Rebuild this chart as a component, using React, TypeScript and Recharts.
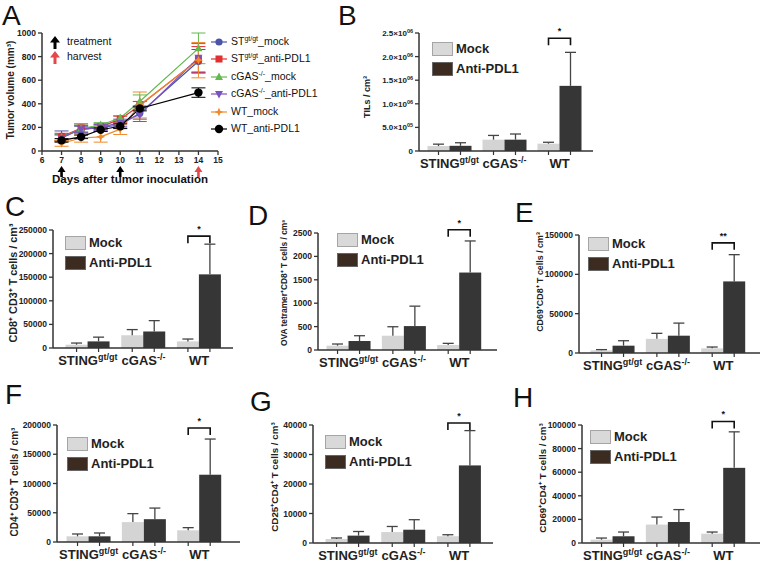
import React from "react";
import {
  LineChart,
  Line,
  XAxis,
  YAxis,
  ErrorBar,
  ReferenceDot,
  BarChart,
  Bar,
  Label,
} from "recharts";

const FONT = '"Liberation Sans", Arial, Helvetica, sans-serif';
const AXIS = "#333";
const MOCK = "#d4d4d4";
const ANTI = "#363636";
const ERR = "#444";

// ---------- panel A: tumor growth ----------
const days = [7, 8, 9, 10, 11, 14];
const dayTicks = [6, 7, 8, 9, 10, 11, 12, 13, 14, 15];
const volumeTicks = [0, 200, 400, 600, 800, 1000];
const stMock = [125, 180, 200, 220, 320, 760];
const stMockErr = [45, 30, 20, 25, 50, 100];
const stAnti = [120, 195, 205, 270, 385, 775];
const stAntiErr = [30, 35, 25, 25, 35, 110];
const cgasMock = [115, 190, 220, 280, 420, 870];
const cgasMockErr = [25, 30, 20, 20, 55, 130];
const cgasAnti = [110, 185, 200, 240, 310, 790];
const cgasAntiErr = [25, 30, 25, 30, 60, 120];
const wtMock = [65, 110, 120, 185, 390, 770];
const wtMockErr = [25, 35, 45, 45, 110, 150];
const wtAnti = [90, 120, 180, 210, 360, 495];
const wtAntiErr = [15, 15, 15, 20, 20, 40];
const treatmentDays = [7, 10];
const harvestDays = [14];

const growthRows = days.map((d, i) => ({
  day: d,
  stMock: stMock[i],
  stMockErr: stMockErr[i],
  stAnti: stAnti[i],
  stAntiErr: stAntiErr[i],
  cgasMock: cgasMock[i],
  cgasMockErr: cgasMockErr[i],
  cgasAnti: cgasAnti[i],
  cgasAntiErr: cgasAntiErr[i],
  wtMock: wtMock[i],
  wtMockErr: wtMockErr[i],
  wtAnti: wtAnti[i],
  wtAntiErr: wtAntiErr[i],
}));

const series = [
  { key: "stMock", color: "#4a55a8", shape: "circle", name: ["ST", "gt/gt", "_mock"] },
  { key: "stAnti", color: "#e0302f", shape: "square", name: ["ST", "gt/gt", "_anti-PDL1"] },
  { key: "cgasMock", color: "#63b84f", shape: "tri", name: ["cGAS", "-/-", "_mock"] },
  { key: "cgasAnti", color: "#7b52c0", shape: "itri", name: ["cGAS", "-/-", "_anti-PDL1"] },
  { key: "wtMock", color: "#f08a2c", shape: "star", name: ["WT", "", "_mock"] },
  { key: "wtAnti", color: "#000000", shape: "bigcircle", name: ["WT", "", "_anti-PDL1"] },
];

// ---------- bar panels ----------
const categories = ["STING", "cGAS", "WT"];
const categorySup = ["gt/gt", "-/-", ""];

const tilsTicks = [0, 500000, 1000000, 1500000, 2000000, 2500000];
const tilsMock = [105000, 240000, 155000];
const tilsMockErr = [40000, 90000, 30000];
const tilsAnti = [110000, 240000, 1380000];
const tilsAntiErr = [65000, 120000, 710000];

const cd8Ticks = [0, 50000, 100000, 150000, 200000, 250000];
const cd8Mock = [7000, 27000, 14000];
const cd8MockErr = [3500, 12000, 5000];
const cd8Anti = [14000, 35000, 156000];
const cd8AntiErr = [9000, 23000, 64000];

const ovaTicks = [0, 500, 1000, 1500, 2000, 2500];
const ovaMock = [92, 305, 106];
const ovaMockErr = [36, 192, 36];
const ovaAnti = [192, 511, 1655];
const ovaAntiErr = [113, 426, 675];

const cd69cd8Ticks = [0, 50000, 100000, 150000];
const cd69cd8Mock = [3400, 18000, 5900];
const cd69cd8MockErr = [900, 7000, 1700];
const cd69cd8Anti = [9300, 22000, 91000];
const cd69cd8AntiErr = [6300, 16000, 34000];

const cd4Ticks = [0, 50000, 100000, 150000, 200000];
const cd4Mock = [9700, 34000, 20000];
const cd4MockErr = [4000, 14500, 4500];
const cd4Anti = [9700, 39000, 115000];
const cd4AntiErr = [5700, 19000, 61000];

const cd25Ticks = [0, 10000, 20000, 30000, 40000];
const cd25Mock = [1350, 3700, 2300];
const cd25MockErr = [350, 1900, 500];
const cd25Anti = [2500, 4500, 26300];
const cd25AntiErr = [1400, 3400, 11800];

const cd69cd4Ticks = [0, 20000, 40000, 60000, 80000, 100000];
const cd69cd4Mock = [2800, 15600, 7900];
const cd69cd4MockErr = [1400, 6400, 1400];
const cd69cd4Anti = [5700, 17800, 63700];
const cd69cd4AntiErr = [3600, 10500, 30500];

function Marker({ shape, cx, cy, color }: any) {
  if (cx == null || cy == null) return null;
  switch (shape) {
    case "square":
      return <rect x={cx - 3.5} y={cy - 3.5} width={7} height={7} fill={color} />;
    case "tri":
      return <polygon points={`${cx},${cy - 4.5} ${cx + 4},${cy + 3} ${cx - 4},${cy + 3}`} fill={color} />;
    case "itri":
      return <polygon points={`${cx},${cy + 4.5} ${cx + 4},${cy - 3} ${cx - 4},${cy - 3}`} fill={color} />;
    case "star":
      return (
        <polygon
          points={`${cx},${cy - 4.5} ${cx + 1.3},${cy - 1.3} ${cx + 4.5},${cy} ${cx + 1.3},${cy + 1.3} ${cx},${cy + 4.5} ${cx - 1.3},${cy + 1.3} ${cx - 4.5},${cy} ${cx - 1.3},${cy - 1.3}`}
          fill={color}
        />
      );
    case "bigcircle":
      return <circle cx={cx} cy={cy} r={4.2} fill={color} />;
    default:
      return <circle cx={cx} cy={cy} r={3.6} fill={color} />;
  }
}

const UpArrow = ({ cx, cy, color, offset = 15 }: any) => {
  const top = cy + offset;
  return (
    <polygon
      points={`${cx},${top} ${cx + 4},${top + 6} ${cx + 1.3},${top + 6} ${cx + 1.3},${top + 11} ${cx - 1.3},${top + 11} ${cx - 1.3},${top + 6} ${cx - 4},${top + 6}`}
      fill={color}
    />
  );
};

const ArrowIcon = ({ color }: any) => (
  <svg width={10} height={13} style={{ display: "block" }}>
    <polygon points="5,0 10,6.5 6.5,6.5 6.5,13 3.5,13 3.5,6.5 0,6.5" fill={color} />
  </svg>
);

const NumTick = ({ x, y, payload, fontSize = 8.5 }: any) => (
  <text x={x} y={y} dy={3} textAnchor="end" fontSize={fontSize} fontWeight={700} fill="#222" fontFamily={FONT}>
    {payload.value}
  </text>
);

const NumTickBottom = ({ x, y, payload }: any) => (
  <text x={x} y={y} dy={6} textAnchor="middle" fontSize={8.5} fontWeight={700} fill="#222" fontFamily={FONT}>
    {payload.value}
  </text>
);

const SciTick = ({ x, y, payload }: any) => {
  const v = payload.value;
  if (v === 0) return <NumTick x={x} y={y} payload={payload} fontSize={8} />;
  const exp = Math.floor(Math.log10(v));
  const m = (v / Math.pow(10, exp)).toFixed(1);
  return (
    <text x={x} y={y} dy={3} textAnchor="end" fontSize={8} fontWeight={700} fill="#222" fontFamily={FONT}>
      {m}×10
      <tspan fontSize={5.5} dy={-3}>{String(exp).padStart(2, "0")}</tspan>
    </text>
  );
};

const CatTick = ({ x, y, payload }: any) => {
  const sup = categorySup[categories.indexOf(payload.value)];
  return (
    <text x={x} y={y} dy={8.5} textAnchor="middle" fontSize={13} fontWeight={700} fill="#222" fontFamily={FONT}>
      {payload.value}
      {sup ? (
        <tspan fontSize={9} dy={-5}>
          {sup}
        </tspan>
      ) : null}
    </text>
  );
};

function BarWithError(props: any) {
  const { x, y, width, height, fill, payload, valKey, errKey } = props;
  const v = payload[valKey];
  const k = v > 0 ? height / v : 0;
  const mid = x + width / 2;
  const base = y + height;
  const top = y - payload[errKey] * k;
  let bracket = null;
  if (payload.sig && valKey === "anti") {
    const by = base - payload.sigLevel * k;
    const x1 = mid - width;
    const x2 = mid;
    bracket = (
      <g>
        <path d={`M${x1},${by + 7}V${by}H${x2}V${by + 7}`} stroke="#111" strokeWidth={1.6} fill="none" />
        <text x={(x1 + x2) / 2} y={by - 4} textAnchor="middle" fontSize={9} fontWeight={700} fill="#111" fontFamily={FONT}>
          {payload.sig}
        </text>
      </g>
    );
  }
  return (
    <g>
      <rect x={x} y={y} width={width} height={height} fill={fill} />
      <line x1={mid} x2={mid} y1={y} y2={top} stroke={ERR} strokeWidth={1.3} />
      <line x1={mid - 5.5} x2={mid + 5.5} y1={top} y2={top} stroke={ERR} strokeWidth={1.3} />
      <line x1={mid} x2={mid} y1={base} y2={base + 4} stroke={AXIS} strokeWidth={1.2} />
      {bracket}
    </g>
  );
}

const PanelLetter = ({ ch, x, capTop }: any) => (
  <div
    style={{
      position: "absolute",
      left: x,
      top: capTop,
      fontSize: 28,
      lineHeight: "20px",
      color: "#111",
      fontFamily: FONT,
    }}
  >
    {ch}
  </div>
);

const VLabel = ({ text, x, y, size }: any) => (
  <div
    style={{
      position: "absolute",
      left: x,
      top: y,
      transform: "translate(-50%, -50%) rotate(-90deg)",
      whiteSpace: "nowrap",
      fontSize: size,
      fontWeight: 700,
      color: "#222",
      fontFamily: FONT,
      lineHeight: 1,
    }}
  >
    {text}
  </div>
);

const BarLegend = ({ x, y }: any) => (
  <div style={{ position: "absolute", left: x, top: y, fontFamily: FONT, fontWeight: 700, fontSize: 13, color: "#222" }}>
    {[
      { label: "Mock", fill: "#d9d9d9", stroke: "#a5a5a5" },
      { label: "Anti-PDL1", fill: "#3b2b20", stroke: "#666" },
    ].map((it, i) => (
      <div key={it.label} style={{ position: "absolute", left: 0, top: i * 20, whiteSpace: "nowrap", height: 13 }}>
        <div
          style={{
            position: "absolute",
            left: 0,
            top: 0,
            width: 19,
            height: 12,
            background: it.fill,
            border: `1px solid ${it.stroke}`,
          }}
        />
        <span style={{ position: "absolute", left: 24, top: -1, lineHeight: "15px" }}>{it.label}</span>
      </div>
    ))}
  </div>
);

function BarPanel(p: any) {
  const { plot, pad, ticks, mock, mockErr, anti, antiErr, sig, sigLevel, sci } = p;
  const rows = categories.map((c, i) => ({
    cat: c,
    mock: mock[i],
    mockErr: mockErr[i],
    anti: anti[i],
    antiErr: antiErr[i],
    sig: i === 2 ? sig : null,
    sigLevel: i === 2 ? sigLevel : null,
  }));
  const yw = 50;
  const topM = 24;
  const left = plot.l - yw;
  const top = plot.t - topM;
  const right = Math.min(plot.r + 4, 762);
  const width = right - left;
  const axisH = Math.min(24, 562 - plot.b);
  const height = plot.b - top + axisH;
  return (
    <>
      <div style={{ position: "absolute", left, top }}>
        <BarChart
          width={width}
          height={height}
          data={rows}
          margin={{ top: topM, right: right - plot.r, bottom: 0, left: 0 }}
          barCategoryGap="10%"
          barGap={0}
        >
          <XAxis
            dataKey="cat"
            interval={0}
            height={axisH}
            padding={{ left: pad[0], right: pad[1] }}
            tick={<CatTick />}
            tickLine={false}
            axisLine={{ stroke: AXIS, strokeWidth: 1.5 }}
          />
          <YAxis
            width={yw}
            domain={[0, ticks[ticks.length - 1]]}
            ticks={ticks}
            interval={0}
            tick={sci ? <SciTick /> : <NumTick />}
            tickSize={4}
            tickLine={{ stroke: AXIS, strokeWidth: 1.3 }}
            axisLine={{ stroke: AXIS, strokeWidth: 1.5 }}
          />
          <Bar
            dataKey="mock"
            fill={MOCK}
            isAnimationActive={false}
            shape={(s: any) => <BarWithError {...s} valKey="mock" errKey="mockErr" />}
          />
          <Bar
            dataKey="anti"
            fill={ANTI}
            isAnimationActive={false}
            shape={(s: any) => <BarWithError {...s} valKey="anti" errKey="antiErr" />}
          />
        </BarChart>
      </div>
      <BarLegend x={p.legend[0]} y={p.legend[1]} />
      <VLabel text={p.yLabel} x={p.yLabelPos[0]} y={p.yLabelPos[1]} size={p.yLabelSize} />
      <PanelLetter ch={p.letter} x={p.letterPos[0]} capTop={p.letterPos[1]} />
    </>
  );
}

function GrowthPanel() {
  const left = 0;
  const top = 20;
  const width = 300;
  const plot = { l: 42, t: 33, b: 151, r: 218 };
  return (
    <>
      <div style={{ position: "absolute", left, top }}>
        <LineChart
          width={width}
          height={plot.b - top + 40}
          data={growthRows}
          margin={{ top: plot.t - top, right: width - plot.r, bottom: 4, left: 0 }}
        >
          <XAxis
            type="number"
            dataKey="day"
            domain={[6, 15]}
            ticks={dayTicks}
            interval={0}
            height={36}
            tick={<NumTickBottom />}
            tickSize={4}
            tickLine={{ stroke: AXIS, strokeWidth: 1.3 }}
            axisLine={{ stroke: AXIS, strokeWidth: 1.5 }}
          >
            <Label
              value="Days after tumor inoculation"
              position="insideBottom"
              offset={4}
              fontSize={11.5}
              fontWeight={700}
              fill="#111"
              fontFamily={FONT}
            />
          </XAxis>
          <YAxis
            width={plot.l - left}
            domain={[0, 1000]}
            ticks={volumeTicks}
            interval={0}
            tick={<NumTick />}
            tickSize={4}
            tickLine={{ stroke: AXIS, strokeWidth: 1.3 }}
            axisLine={{ stroke: AXIS, strokeWidth: 1.5 }}
          />
          {series.map((s) => (
            <Line
              key={s.key}
              type="linear"
              dataKey={s.key}
              stroke={s.color}
              strokeWidth={1.2}
              isAnimationActive={false}
              activeDot={false}
              dot={(d: any) => <Marker key={`${s.key}-${d.index}`} shape={s.shape} cx={d.cx} cy={d.cy} color={s.color} />}
            >
              <ErrorBar dataKey={`${s.key}Err`} width={7} stroke={s.color} strokeWidth={1} direction="y" />
            </Line>
          ))}
          {treatmentDays.map((d) => (
            <ReferenceDot key={`t${d}`} x={d} y={0} r={0} shape={(p: any) => <UpArrow cx={p.cx} cy={p.cy} color="#000" />} />
          ))}
          {harvestDays.map((d) => (
            <ReferenceDot key={`h${d}`} x={d} y={0} r={0} shape={(p: any) => <UpArrow cx={p.cx} cy={p.cy} color="#e5484a" />} />
          ))}
        </LineChart>
      </div>
      <VLabel text="Tumor volume (mm³)" x={11} y={90} size={10} />
      <div style={{ position: "absolute", left: 50, top: 36, fontFamily: FONT, fontSize: 10.5, color: "#111" }}>
        <div style={{ position: "absolute", left: 0, top: 0 }}>
          <ArrowIcon color="#000" />
        </div>
        <span style={{ position: "absolute", left: 17, top: -1, whiteSpace: "nowrap" }}>treatment</span>
        <div style={{ position: "absolute", left: 0, top: 15 }}>
          <ArrowIcon color="#e5484a" />
        </div>
        <span style={{ position: "absolute", left: 17, top: 14, whiteSpace: "nowrap" }}>harvest</span>
      </div>
      <div style={{ position: "absolute", left: 210, top: 36, fontFamily: FONT, fontSize: 10.5, color: "#111" }}>
        {series.map((s, i) => (
          <div key={s.key} style={{ position: "absolute", left: 0, top: i * 17.4, whiteSpace: "nowrap", height: 12 }}>
            <svg width={18} height={12} style={{ position: "absolute", left: 0, top: 0 }}>
              <line x1={1} x2={17} y1={6} y2={6} stroke={s.color} strokeWidth={1.2} />
              <Marker shape={s.shape} cx={9} cy={6} color={s.color} />
            </svg>
            <span style={{ position: "absolute", left: 21, top: -1, lineHeight: "13px" }}>
              {s.name[0]}
              {s.name[1] ? <sup style={{ fontSize: 7, lineHeight: 0 }}>{s.name[1]}</sup> : null}
              {s.name[2]}
            </span>
          </div>
        ))}
      </div>
      <PanelLetter ch="A" x={2} capTop={6} />
    </>
  );
}

export default function App() {
  return (
    <div
      style={{
        position: "absolute",
        left: 0,
        top: 0,
        width: 762,
        height: 563,
        overflow: "hidden",
        background: "#fff",
        fontFamily: FONT,
      }}
    >
      <GrowthPanel />
      <BarPanel
        letter="B"
        letterPos={[338, 6]}
        plot={{ l: 419, t: 33, b: 151, r: 593 }}
        pad={[3, 6]}
        ticks={tilsTicks}
        sci
        mock={tilsMock}
        mockErr={tilsMockErr}
        anti={tilsAnti}
        antiErr={tilsAntiErr}
        sig="*"
        sigLevel={2390000}
        yLabel="TILs / cm³"
        yLabelPos={[367, 97]}
        yLabelSize={9}
        legend={[432, 42]}
      />
      <BarPanel
        letter="C"
        letterPos={[5, 197]}
        plot={{ l: 53, t: 230, b: 348, r: 233 }}
        pad={[7, 6]}
        ticks={cd8Ticks}
        mock={cd8Mock}
        mockErr={cd8MockErr}
        anti={cd8Anti}
        antiErr={cd8AntiErr}
        sig="*"
        sigLevel={237000}
        yLabel="CD8⁺ CD3⁺ T cells / cm³"
        yLabelPos={[13, 283]}
        yLabelSize={10.8}
        legend={[65, 236]}
      />
      <BarPanel
        letter="D"
        letterPos={[248, 206]}
        plot={{ l: 318, t: 233, b: 350, r: 497 }}
        pad={[3, 10]}
        ticks={ovaTicks}
        mock={ovaMock}
        mockErr={ovaMockErr}
        anti={ovaAnti}
        antiErr={ovaAntiErr}
        sig="*"
        sigLevel={2570}
        yLabel="OVA tetramer⁺CD8⁺ T cells / cm³"
        yLabelPos={[284, 283]}
        yLabelSize={8.4}
        legend={[337, 233]}
      />
      <BarPanel
        letter="E"
        letterPos={[515, 203]}
        plot={{ l: 579, t: 235, b: 353, r: 760 }}
        pad={[6, 9]}
        ticks={cd69cd8Ticks}
        mock={cd69cd8Mock}
        mockErr={cd69cd8MockErr}
        anti={cd69cd8Anti}
        antiErr={cd69cd8AntiErr}
        sig="**"
        sigLevel={140000}
        yLabel="CD69⁺CD8⁺ T cells / cm³"
        yLabelPos={[540, 282]}
        yLabelSize={8.9}
        legend={[588, 237]}
      />
      <BarPanel
        letter="F"
        letterPos={[5, 385]}
        plot={{ l: 57, t: 425, b: 542, r: 240 }}
        pad={[4, 13]}
        ticks={cd4Ticks}
        mock={cd4Mock}
        mockErr={cd4MockErr}
        anti={cd4Anti}
        antiErr={cd4AntiErr}
        sig="*"
        sigLevel={195000}
        yLabel="CD4⁺ CD3⁺ T cells / cm³"
        yLabelPos={[15, 482]}
        yLabelSize={10}
        legend={[67, 437]}
      />
      <BarPanel
        letter="G"
        letterPos={[250, 392]}
        plot={{ l: 313, t: 425, b: 543, r: 493 }}
        pad={[7, 6]}
        ticks={cd25Ticks}
        mock={cd25Mock}
        mockErr={cd25MockErr}
        anti={cd25Anti}
        antiErr={cd25AntiErr}
        sig="*"
        sigLevel={40700}
        yLabel="CD25⁺CD4⁺ T cells / cm³"
        yLabelPos={[275, 477]}
        yLabelSize={9.8}
        legend={[325, 435]}
      />
      <BarPanel
        letter="H"
        letterPos={[513, 388]}
        plot={{ l: 582, t: 425, b: 543, r: 760 }}
        pad={[3, 9]}
        ticks={cd69cd4Ticks}
        mock={cd69cd4Mock}
        mockErr={cd69cd4MockErr}
        anti={cd69cd4Anti}
        antiErr={cd69cd4AntiErr}
        sig="*"
        sigLevel={103000}
        yLabel="CD69⁺CD4⁺ T cells / cm³"
        yLabelPos={[543, 478]}
        yLabelSize={9.8}
        legend={[590, 430]}
      />
    </div>
  );
}
